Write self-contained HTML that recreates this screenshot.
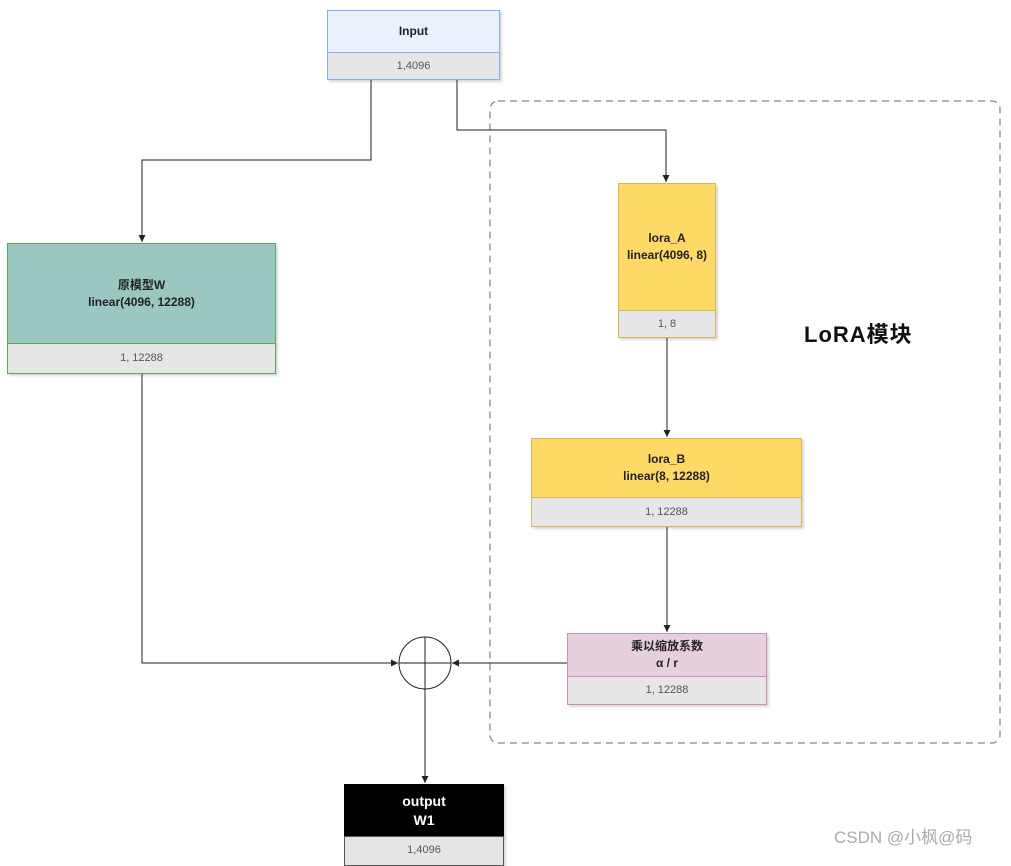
<!DOCTYPE html>
<html><head><meta charset="utf-8"><style>
body{margin:0;width:1011px;height:853px;background:#fff;position:relative;overflow:hidden;font-family:"Liberation Sans","Noto Sans CJK SC",sans-serif}
.b{position:absolute;box-sizing:border-box;display:flex;align-items:center;justify-content:center;text-align:center;font-size:12px;line-height:17px;box-shadow:2px 2px 2px rgba(0,0,0,0.15)}
.t{font-weight:bold;color:#222}
.g{background:#e6e6e6;color:#555;font-size:11px}
svg{position:absolute;left:0;top:0}
</style></head><body>
<svg width="1011" height="853">
<defs><marker id="a" markerWidth="8" markerHeight="8" refX="7" refY="4" orient="auto" markerUnits="userSpaceOnUse"><path d="M0,0.5 L7,4 L0,7.5 Z" fill="#222"/></marker></defs>
<rect x="490" y="101" width="510" height="642" rx="8" fill="none" stroke="#999" stroke-width="1.5" stroke-dasharray="7,5"/>
<g fill="none" stroke="#222" stroke-width="1">
<path d="M371,80 V160 H142 V242" marker-end="url(#a)"/>
<path d="M457,80 V130 H666 V182" marker-end="url(#a)"/>
<path d="M667,338 V437" marker-end="url(#a)"/>
<path d="M667,527 V632" marker-end="url(#a)"/>
<path d="M142,374 V663 H398" marker-end="url(#a)"/>
<path d="M567,663 H452" marker-end="url(#a)"/>
<path d="M425,689 V783" marker-end="url(#a)"/>
<circle cx="425" cy="663" r="26"/>
<path d="M425,637 V689 M399,663 H451"/>
</g>
</svg>
<div class="b t" style="left:327px;top:10px;width:173px;height:43px;background:#eaf1fd;border:1px solid #7eb0ef">Input</div>
<div class="b g" style="left:327px;top:52px;width:173px;height:28px;border:1px solid #7eb0ef">1,4096</div>
<div class="b t" style="left:7px;top:243px;width:269px;height:101px;background:#9ac7bf;border:1px solid #5aa65a">原模型W<br>linear(4096, 12288)</div>
<div class="b g" style="left:7px;top:343px;width:269px;height:31px;border:1px solid #5aa65a">1, 12288</div>
<div class="b t" style="left:618px;top:183px;width:98px;height:128px;background:#ffd966;border:1px solid #d6b656">lora_A<br>linear(4096, 8)</div>
<div class="b g" style="left:618px;top:310px;width:98px;height:28px;border:1px solid #d6b656">1, 8</div>
<div class="b t" style="left:531px;top:438px;width:271px;height:60px;background:#ffd966;border:1px solid #d6b656">lora_B<br>linear(8, 12288)</div>
<div class="b g" style="left:531px;top:497px;width:271px;height:30px;border:1px solid #d6b656">1, 12288</div>
<div class="b t" style="left:567px;top:633px;width:200px;height:44px;background:#e6d0de;border:1px solid #c98fb5">乘以缩放系数<br>α / r</div>
<div class="b g" style="left:567px;top:676px;width:200px;height:29px;border:1px solid #c98fb5">1, 12288</div>
<div class="b t" style="left:344px;top:784px;width:160px;height:53px;background:#000;color:#fff;font-size:14px;line-height:19px">output<br>W1</div>
<div class="b g" style="left:344px;top:836px;width:160px;height:30px;border:1px solid #555;align-items:flex-start;padding-top:5px">1,4096</div>
<div style="position:absolute;left:804px;top:317px;font-size:22px;font-weight:bold;color:#111;letter-spacing:1px">LoRA模块</div>
<div style="position:absolute;left:834px;top:823px;font-size:17px;color:#aaa">CSDN @小枫@码</div>
</body></html>
